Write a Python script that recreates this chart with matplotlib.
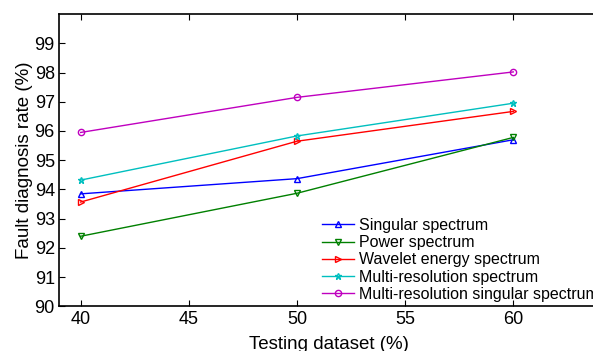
import matplotlib.pyplot as plt
import numpy as np

plt.rcParams['font.family'] = ['Liberation Sans', 'DejaVu Sans']

# данные
x = [40, 50, 60]
singular = [93.85, 94.37, 95.70]
power = [92.40, 93.87, 95.78]
wavelet = [93.57, 95.65, 96.67]
multires = [94.32, 95.83, 96.95]
mrss = [95.95, 97.15, 98.02]

labels = ['Singular spectrum', 'Power spectrum', 'Wavelet energy spectrum',
          'Multi-resolution spectrum', 'Multi-resolution singular spectrum']

fig = plt.figure(figsize=(5.93, 3.51), dpi=100)
ax = fig.add_axes([0.0995, 0.127, 0.912, 0.833])

ax.plot(x, singular, '-^', color='#0000ff', lw=1, ms=5, mfc='none', label=labels[0])
ax.plot(x, power, '-v', color='#008000', lw=1, ms=5, mfc='none', label=labels[1])
ax.plot(x, wavelet, '->', color='#ff0000', lw=1, ms=5, mfc='none', label=labels[2])
ax.plot(x, multires, '-*', color='#00bfbf', lw=1, ms=5, mfc='none', label=labels[3])
ax.plot(x, mrss, '-o', color='#bf00bf', lw=1, ms=4.5, mfc='none', label=labels[4])

ax.set_xlim(39, 64)
ax.set_ylim(90, 100)
ax.set_xticks([40, 45, 50, 55, 60])
ax.set_yticks(np.arange(90, 100, 1))
ax.tick_params(direction='in', top=True, right=True, labelsize=13, length=4.5, pad=3)
for s in ax.spines.values():
    s.set_linewidth(1.2)

ax.set_xlabel('Testing dataset (%)', fontsize=13.5, labelpad=6)
ax.set_ylabel('Fault diagnosis rate (%)', fontsize=13.5, labelpad=1)

ax.legend(loc='lower left', bbox_to_anchor=(0.543, 0.14), bbox_transform=fig.transFigure,
          frameon=False, fontsize=11.5, borderpad=0, labelspacing=0.14,
          handlelength=2.0, handletextpad=0.3, borderaxespad=0)

plt.savefig('out.png', dpi=100)
